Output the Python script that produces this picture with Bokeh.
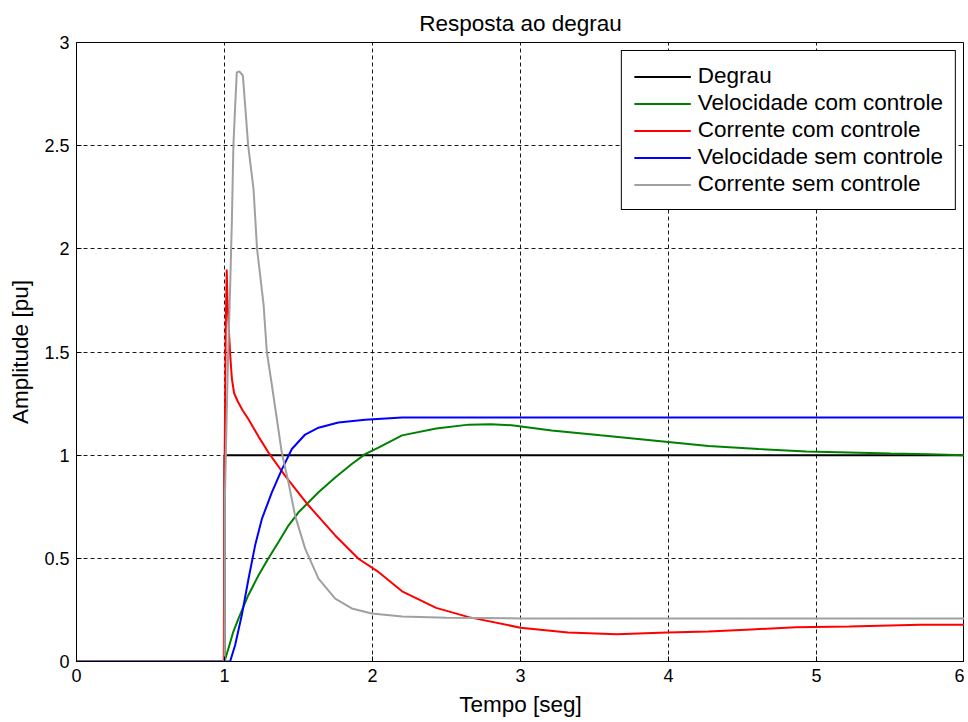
from bokeh.plotting import figure
from bokeh.models import Range1d, NumeralTickFormatter
from bokeh.embed import file_html
from bokeh.resources import INLINE

# ---- data ----
x_ticks = [0, 1, 2, 3, 4, 5, 6]
y_ticks = [0, 0.5, 1, 1.5, 2, 2.5, 3]
y_tick_labels = ["0", "0.5", "1", "1.5", "2", "2.5", "3"]

t_degrau = [0.0, 1.0, 1.0, 6.0]
v_degrau = [0.0, 0.0, 1.0, 1.0]

t_vel_com = [0, 1.0, 1.027, 1.06, 1.095, 1.16, 1.23, 1.297, 1.365, 1.432, 1.5, 1.568,
             1.635, 1.748, 1.86, 1.95, 2.04, 2.2, 2.43, 2.65, 2.8, 2.94, 3.21, 3.54,
             3.93, 4.27, 4.61, 4.93, 5.22, 5.5, 5.76, 6.0]
v_vel_com = [0, 0, 0.064, 0.145, 0.209, 0.32, 0.418, 0.5, 0.579, 0.659, 0.723, 0.772,
             0.82, 0.892, 0.957, 1.005, 1.037, 1.096, 1.129, 1.148, 1.15, 1.145, 1.12, 1.096,
             1.069, 1.045, 1.03, 1.018, 1.013, 1.008, 1.005, 1.0]

t_cor_com = [0, 0.995, 1.0, 1.008, 1.015, 1.02, 1.03, 1.04, 1.05, 1.065, 1.09, 1.12,
             1.162, 1.23, 1.297, 1.41, 1.568, 1.748, 1.905, 2.04, 2.2, 2.43, 2.65, 3.0,
             3.32, 3.65, 3.99, 4.27, 4.56, 4.86, 5.22, 5.7, 6.0]
v_cor_com = [0, 0, 0.9, 1.6, 1.9, 1.75, 1.6, 1.47, 1.37, 1.3, 1.26, 1.22,
             1.174, 1.09, 1.013, 0.9, 0.756, 0.611, 0.498, 0.434, 0.34, 0.26, 0.215, 0.164,
             0.14, 0.132, 0.14, 0.145, 0.155, 0.166, 0.17, 0.178, 0.178]

t_vel_sem = [0, 1.038, 1.072, 1.117, 1.162, 1.207, 1.252, 1.32, 1.387, 1.455, 1.545,
             1.635, 1.77, 1.95, 2.2, 6.0]
v_vel_sem = [0, 0, 0.08, 0.225, 0.40, 0.563, 0.69, 0.82, 0.93, 1.03, 1.10,
             1.133, 1.158, 1.172, 1.182, 1.182]

t_cor_sem = [0, 1.0, 1.003, 1.015, 1.025, 1.038, 1.05, 1.06, 1.072, 1.083, 1.10, 1.124,
             1.14, 1.16, 1.196, 1.22, 1.264, 1.286, 1.32, 1.354, 1.387, 1.432, 1.477,
             1.545, 1.635, 1.748, 1.86, 1.995, 2.2, 2.5, 3.0, 6.0]
v_cor_sem = [0, 0, 0.8, 1.2, 1.5, 1.81, 2.14, 2.5, 2.69, 2.855, 2.86, 2.84,
             2.69, 2.5, 2.29, 2.0, 1.73, 1.5, 1.34, 1.174, 1.013, 0.868, 0.707,
             0.547, 0.402, 0.305, 0.257, 0.233, 0.218, 0.212, 0.209, 0.209]

FONT = "Liberation Sans"

p = figure(width=964, height=719, x_range=Range1d(0, 6), y_range=Range1d(0, 3),
           output_backend="svg", toolbar_location=None, title="Resposta ao degrau",
           min_border_left=76, min_border_right=0, min_border_top=42, min_border_bottom=57,
           x_axis_label="Tempo [seg]", y_axis_label="Amplitude [pu]")

p.background_fill_color = "white"
p.border_fill_color = "white"
p.outline_line_color = "black"
p.outline_line_width = 1
p.outline_line_alpha = 1

p.title.align = "center"
p.title.text_font = FONT
p.title.text_font_size = "22.5px"
p.title.text_font_style = "normal"
p.title.text_color = "black"
p.title.standoff = 14

p.xaxis.ticker = x_ticks
p.yaxis.ticker = y_ticks
p.yaxis.formatter = NumeralTickFormatter(format="0.[0]")
p.yaxis.major_label_overrides = dict(zip(y_ticks, y_tick_labels))

for ax in p.axis:
    ax.axis_line_color = "black"
    ax.axis_line_width = 1
    ax.major_tick_in = 5
    ax.major_tick_out = 0
    ax.major_tick_line_color = "black"
    ax.minor_tick_line_color = None
    ax.major_label_text_font = FONT
    ax.major_label_text_font_size = "18px"
    ax.major_label_text_color = "black"
    ax.axis_label_text_font = FONT
    ax.axis_label_text_font_size = "22.5px"
    ax.axis_label_text_font_style = "normal"
    ax.axis_label_text_color = "black"

p.xaxis.major_label_standoff = 7
p.xaxis.axis_label_standoff = 7
p.yaxis.major_label_standoff = 7
p.yaxis.axis_label_standoff = 8

for g in (p.xgrid, p.ygrid):
    g.grid_line_color = "black"
    g.grid_line_dash = "4 3"
    g.grid_line_width = 1
    g.grid_line_alpha = 0.9

p.line(t_degrau, v_degrau, line_color="black", line_width=2, legend_label="Degrau")
p.line(t_vel_com, v_vel_com, line_color="#008000", line_width=2, legend_label="Velocidade com controle")
p.line(t_cor_com, v_cor_com, line_color="#ff0000", line_width=2, legend_label="Corrente com controle")
p.line(t_vel_sem, v_vel_sem, line_color="#0000ff", line_width=2, legend_label="Velocidade sem controle")
p.line(t_cor_sem, v_cor_sem, line_color="#a0a0a0", line_width=2, legend_label="Corrente sem controle")

lg = p.legend[0]
lg.location = "top_right"
lg.margin = 8
lg.padding = 12
lg.spacing = 1
lg.glyph_width = 57
lg.glyph_height = 25
lg.label_height = 25
lg.label_standoff = 7
lg.label_text_font = FONT
lg.label_text_font_size = "22.5px"
lg.label_text_color = "black"
lg.border_line_color = "black"
lg.border_line_width = 1
lg.border_line_alpha = 1
lg.background_fill_color = "white"
lg.background_fill_alpha = 1

open("out.html", "w").write(file_html(p, INLINE))
